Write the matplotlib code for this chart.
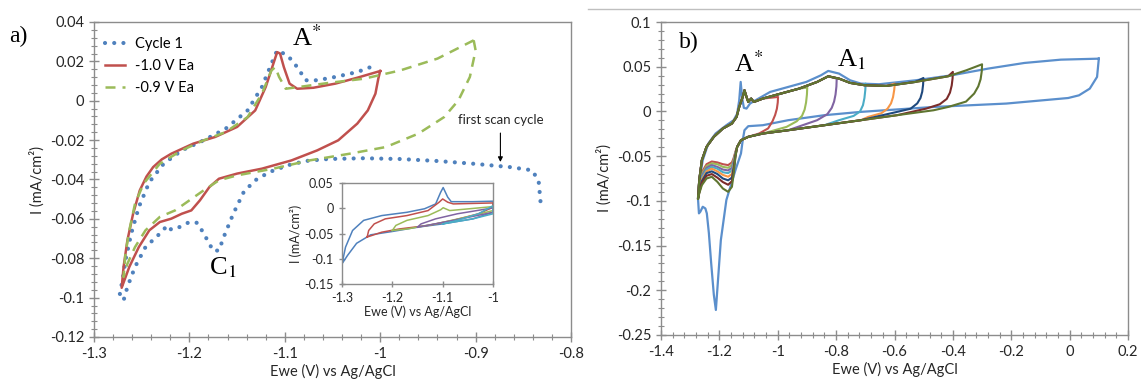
import matplotlib
matplotlib.use("Agg")
import matplotlib.pyplot as plt
import numpy as np
from matplotlib.lines import Line2D
from matplotlib.ticker import MultipleLocator

plt.rcParams["font.family"] = ["Lato", "DejaVu Sans"]
plt.rcParams["mathtext.fontset"] = "stix"

# ---------------- panel a: main curves ----------------
cycle1_x = [-0.832, -0.834, -0.841, -0.864, -0.902, -0.940, -0.979, -1.017, -1.055, -1.078,
            -1.097, -1.116, -1.131, -1.143, -1.154, -1.164, -1.169, -1.175, -1.181, -1.187,
            -1.192, -1.200, -1.210, -1.219, -1.223, -1.231, -1.246, -1.257, -1.265, -1.269,
            -1.273, -1.270, -1.267, -1.261, -1.253, -1.242, -1.227, -1.208, -1.185, -1.162,
            -1.139, -1.124, -1.114, -1.108, -1.097, -1.087, -1.078, -1.066, -1.047, -1.024, -1.005]
cycle1_y = [-0.051, -0.0404, -0.0353, -0.0337, -0.032, -0.0306, -0.0296, -0.0292, -0.0296, -0.0306,
            -0.0328, -0.0362, -0.0404, -0.0463, -0.0574, -0.0692, -0.076, -0.0763, -0.0709, -0.0658,
            -0.062, -0.0616, -0.0641, -0.0655, -0.0633, -0.0675, -0.0743, -0.0844, -0.0946, -0.1014,
            -0.098, -0.091, -0.081, -0.0675, -0.054, -0.0413, -0.032, -0.0252, -0.0201, -0.0142,
            -0.0049, 0.007, 0.0188, 0.0256, 0.023, 0.0171, 0.0104, 0.0104, 0.0121, 0.0146, 0.018]

ea10_x = [-1.000, -1.002, -1.005, -1.013, -1.024, -1.044, -1.066, -1.093, -1.124, -1.150, -1.169,
          -1.179, -1.189, -1.198, -1.208, -1.219, -1.231, -1.242, -1.253, -1.263, -1.271,
          -1.269, -1.265, -1.259, -1.252, -1.245, -1.238, -1.229, -1.219, -1.196, -1.173, -1.150,
          -1.131, -1.120, -1.112, -1.108, -1.105, -1.101, -1.095, -1.087, -1.070, -1.047, -1.024, -1.000]
ea10_y = [0.0151, 0.0112, 0.0036, -0.0049, -0.0116, -0.0201, -0.0252, -0.0303, -0.0345, -0.037, -0.0396,
          -0.0438, -0.0506, -0.0557, -0.0574, -0.0599, -0.0616, -0.0658, -0.0743, -0.0844, -0.095,
          -0.0844, -0.0709, -0.0574, -0.0455, -0.0385, -0.0337, -0.0298, -0.0269, -0.0218, -0.0184, -0.0133,
          -0.0049, 0.007, 0.0188, 0.0247, 0.024, 0.0171, 0.0087, 0.0061, 0.0066, 0.0087, 0.0117, 0.0151]

ea09_x = [-0.902, -0.900, -0.906, -0.918, -0.933, -0.960, -0.994, -1.032, -1.074, -1.112, -1.150,
          -1.169, -1.185, -1.200, -1.215, -1.231, -1.246, -1.257, -1.265, -1.269,
          -1.267, -1.263, -1.257, -1.248, -1.231, -1.208, -1.185, -1.162, -1.139, -1.124, -1.114,
          -1.110, -1.106, -1.099, -1.085, -1.055, -1.017, -0.979, -0.940, -0.902]
ea09_y = [0.0307, 0.0256, 0.0121, 0.0002, -0.0083, -0.0167, -0.0235, -0.0269, -0.0303, -0.0345, -0.0379,
          -0.0404, -0.0455, -0.0506, -0.0557, -0.059, -0.0658, -0.0743, -0.0828, -0.0895,
          -0.0777, -0.0658, -0.0523, -0.0421, -0.032, -0.0252, -0.0201, -0.0159, -0.0083, 0.0036, 0.0154,
          0.0171, 0.0121, 0.0061, 0.007, 0.009, 0.0112, 0.0154, 0.0214, 0.0307]

# ---------------- panel a: inset ----------------
inset_blue_x = [-1.300, -1.293, -1.279, -1.257, -1.221, -1.171, -1.136, -1.114, -1.104, -1.099, -1.090,
                -1.083, -1.040, -1.000, -1.000, -1.040, -1.100, -1.150, -1.200, -1.243, -1.271, -1.289, -1.300]
inset_blue_y = [-0.110, -0.077, -0.044, -0.024, -0.0145, -0.008, -0.001, 0.0085, 0.0316, 0.041, 0.022,
                0.013, 0.013, 0.014, -0.008, -0.021, -0.031, -0.0375, -0.046, -0.0526, -0.0694, -0.0934, -0.110]
inset_red_x = [-1.250, -1.247, -1.236, -1.214, -1.171, -1.129, -1.107, -1.100, -1.090, -1.079, -1.000,
               -1.000, -1.029, -1.079, -1.129, -1.186, -1.221, -1.250]
inset_red_y = [-0.057, -0.044, -0.031, -0.021, -0.0145, -0.0046, 0.012, 0.0184, 0.012, 0.0086, 0.0105,
               0.002, -0.011, -0.024, -0.034, -0.041, -0.0474, -0.057]
inset_green_x = [-1.200, -1.193, -1.171, -1.129, -1.104, -1.099, -1.086, -1.000, -1.000, -1.040, -1.114, -1.171, -1.200]
inset_green_y = [-0.044, -0.034, -0.024, -0.0145, -0.003, 0.001, -0.0046, 0.0033, -0.0046, -0.0145, -0.031, -0.041, -0.044]
inset_purple_x = [-1.150, -1.143, -1.114, -1.071, -1.000, -1.000, -1.079, -1.150]
inset_purple_y = [-0.0375, -0.031, -0.021, -0.011, 0.0007, -0.008, -0.024, -0.0375]
inset_cyan_x = [-1.100, -1.071, -1.029, -1.000, -1.000, -1.040, -1.100]
inset_cyan_y = [-0.031, -0.024, -0.011, 0.005, -0.011, -0.021, -0.031]

# ---------------- panel b: first (wide) cycle ----------------
wide_x = [0.100, 0.094, 0.069, 0.032, -0.005, -0.217, -0.466, -0.715, -0.840, -0.964, -1.051, -1.101,
          -1.114, -1.120, -1.126, -1.145, -1.176, -1.195, -1.205, -1.212, -1.219, -1.228, -1.236,
          -1.243, -1.248, -1.257, -1.265, -1.270, -1.273, -1.268, -1.257, -1.238, -1.213, -1.176,
          -1.151, -1.139, -1.132, -1.127, -1.122, -1.116, -1.107, -1.095, -1.076, -1.026, -0.964,
          -0.902, -0.852, -0.827, -0.790, -0.752, -0.715, -0.653, -0.528, -0.404, -0.279, -0.155,
          -0.030, 0.100]
wide_y = [0.059, 0.0386, 0.0255, 0.018, 0.015, 0.0088, 0.005, -0.0005, -0.0042, -0.0098, -0.0154, -0.0165,
          -0.021, -0.0322, -0.047, -0.0657, -0.099, -0.144, -0.190, -0.222, -0.205, -0.170, -0.136,
          -0.114, -0.1085, -0.1066, -0.112, -0.114, -0.099, -0.0768, -0.0545, -0.0359, -0.0247, -0.0154,
          -0.0098, -0.0024, 0.0125, 0.033, 0.015, 0.004, 0.0032, 0.0088, 0.0125, 0.0218, 0.0274,
          0.033, 0.0404, 0.0453, 0.0423, 0.0348, 0.0311, 0.0304, 0.0348, 0.0404, 0.0479, 0.0542,
          0.0579, 0.059]

# ---------------- panel b: shared branches of the switching-potential cycles ----------------
upper_x = [-1.269, -1.260, -1.244, -1.219, -1.188, -1.157, -1.141, -1.132, -1.120, -1.114, -1.107,
           -1.101, -1.091, -1.082, -1.051, -0.989, -0.927, -0.865, -0.827, -0.790, -0.752, -0.703,
           -0.628, -0.528, -0.416, -0.354]
upper_y = [-0.0768, -0.0545, -0.0396, -0.0284, -0.0191, -0.0135, -0.0061, 0.0051, 0.0162, 0.0237, 0.0162,
           0.0106, 0.0144, 0.0106, 0.0144, 0.020, 0.0255, 0.033, 0.0393, 0.0367, 0.0319, 0.0293,
           0.0285, 0.033, 0.0393, 0.046]
lower_x = [-0.466, -0.591, -0.715, -0.840, -0.964, -1.051, -1.101, -1.126, -1.139]
lower_y = [0.0013, -0.0042, -0.0098, -0.0154, -0.021, -0.0247, -0.0284, -0.0322, -0.0396]
cpeak_x = [-1.145, -1.151, -1.157, -1.170, -1.188, -1.207, -1.226, -1.244, -1.260, -1.269, -1.273]

ea_labels = ["-1.0", "-0.9", "-0.8", "-0.7", "-0.6", "-0.5", "-0.4", "-0.3"]
ea_top_x = [-0.999, -0.899, -0.798, -0.699, -0.599, -0.501, -0.400, -0.300]
ea_top_y = [0.0162, 0.0267, 0.0367, 0.0311, 0.0311, 0.0374, 0.0442, 0.0527]
rev_x = [[-1.000, -1.003, -1.009, -1.018, -1.033, -1.064],
         [-0.900, -0.903, -0.908, -0.917, -0.935, -0.970],
         [-0.799, -0.802, -0.807, -0.815, -0.830, -0.865],
         [-0.700, -0.703, -0.708, -0.718, -0.740, -0.790],
         [-0.601, -0.605, -0.612, -0.624, -0.645, -0.690],
         [-0.502, -0.505, -0.511, -0.522, -0.545, -0.591],
         [-0.401, -0.404, -0.410, -0.421, -0.445, -0.491],
         [-0.301, -0.305, -0.313, -0.327, -0.355, -0.416]]
rev_y = [[0.010, 0.003, -0.004, -0.011, -0.019, -0.0247],
         [0.019, 0.010, 0.002, -0.005, -0.011, -0.0173],
         [0.028, 0.019, 0.011, 0.004, -0.003, -0.0098],
         [0.024, 0.015, 0.007, 0.000, -0.005, -0.0098],
         [0.024, 0.016, 0.009, 0.003, -0.002, -0.0061],
         [0.030, 0.022, 0.015, 0.009, 0.003, -0.0005],
         [0.037, 0.029, 0.021, 0.014, 0.008, 0.0032],
         [0.045, 0.036, 0.028, 0.020, 0.011, 0.005]]
cpeak_y = [[-0.045, -0.052, -0.057, -0.060, -0.059, -0.057, -0.056, -0.059, -0.068, -0.084, -0.095],
           [-0.046, -0.054, -0.060, -0.063, -0.062, -0.059, -0.058, -0.061, -0.070, -0.086, -0.096],
           [-0.047, -0.056, -0.063, -0.066, -0.065, -0.062, -0.060, -0.063, -0.072, -0.087, -0.096],
           [-0.047, -0.058, -0.066, -0.069, -0.068, -0.064, -0.062, -0.065, -0.074, -0.088, -0.096],
           [-0.048, -0.061, -0.070, -0.073, -0.071, -0.067, -0.064, -0.067, -0.076, -0.089, -0.097],
           [-0.049, -0.063, -0.074, -0.077, -0.075, -0.070, -0.067, -0.069, -0.078, -0.090, -0.097],
           [-0.050, -0.066, -0.078, -0.082, -0.079, -0.074, -0.070, -0.072, -0.080, -0.091, -0.097],
           [-0.0508, -0.0694, -0.0843, -0.0899, -0.0862, -0.0787, -0.0731, -0.075, -0.0824, -0.0917, -0.0973]]
ea_colors = ["#C0504D", "#9BBB59", "#8064A2", "#4BACC6", "#F79646", "#1F497D", "#7B2C2A", "#5F7530"]

BLUE, RED, GREEN = "#4F81BD", "#C0504D", "#9BBB59"
AXIS_GRAY = "#8C8C8C"
TEXT = "#262626"


def build_loop(i):
    ux, uy = np.array(upper_x), np.array(upper_y)
    lx, ly = np.array(lower_x), np.array(lower_y)
    ea_x = ea_top_x[i]
    keep_u = ux < ea_x
    keep_l = lx < rev_x[i][-1]
    xs = np.concatenate([[cpeak_x[-1]], ux[keep_u], [ea_x], rev_x[i], lx[keep_l], cpeak_x])
    ys = np.concatenate([[cpeak_y[i][-1]], uy[keep_u], [ea_top_y[i]], rev_y[i], ly[keep_l], cpeak_y[i]])
    return xs, ys


def style_axis(ax, major_len=7, minor_len=5):
    for side in ax.spines.values():
        side.set_color(AXIS_GRAY)
        side.set_linewidth(1.0)
    ax.tick_params(which="both", direction="inout", color=AXIS_GRAY, labelcolor=TEXT,
                   top=False, right=False)
    ax.tick_params(which="major", length=major_len, width=1.0, labelsize=10.5)
    ax.tick_params(which="minor", length=minor_len, width=0.8)


def fmt(v):
    s = f"{v:.2f}".rstrip("0").rstrip(".")
    if s in ("-0", "0"):
        return "0"
    return s


fig = plt.figure(figsize=(11.41, 3.83), dpi=100)

# ---------------- panel a ----------------
ax_a = fig.add_axes([94 / 1141, 1 - 337 / 383, (571 - 94) / 1141, 315 / 383])
ax_a.plot(cycle1_x, cycle1_y, color=BLUE, lw=3.0, linestyle=(0, (0.01, 2.2)),
          dash_capstyle="round", label="Cycle 1")
ax_a.plot(ea10_x, ea10_y, color=RED, lw=1.8, label="-1.0 V Ea")
ax_a.plot(ea09_x, ea09_y, color=GREEN, lw=1.8, linestyle=(0, (4, 2.8)), label="-0.9 V Ea")
ax_a.set_xlim(-1.3, -0.8)
ax_a.set_ylim(-0.12, 0.04)
ax_a.xaxis.set_minor_locator(MultipleLocator(0.02))
ax_a.yaxis.set_minor_locator(MultipleLocator(0.004))
style_axis(ax_a)
ax_ticks = np.arange(-1.3, -0.79, 0.1)
ax_a.set_xticks(ax_ticks)
ax_a.set_xticklabels([fmt(v) for v in ax_ticks])
ay_ticks = np.arange(-0.12, 0.041, 0.02)
ax_a.set_yticks(ay_ticks)
ax_a.set_yticklabels([fmt(v) for v in ay_ticks])
ax_a.set_xlabel("Ewe (V) vs Ag/AgCl", fontsize=10.5, color=TEXT, labelpad=2)
ax_a.set_ylabel("I (mA/cm²)", fontsize=10.5, color=TEXT, labelpad=4)
ax_a.legend(loc="upper left", bbox_to_anchor=(0.01, 0.97), frameon=False, fontsize=10.5,
            handlelength=1.4, handletextpad=0.7, labelspacing=0.55, borderaxespad=0)
ax_a.annotate("", xy=(-0.874, -0.0325), xytext=(-0.874, -0.0150),
              arrowprops=dict(arrowstyle="-|>", color="black", lw=0.8, mutation_scale=7))
ax_a.text(-0.874, -0.0098, "first scan cycle", fontsize=9.5, color=TEXT, ha="center", va="center")
fig.text(9 / 1141, 1 - 36 / 383, "a)", fontsize=17, family="Liberation Serif", va="center")
fig.text(292 / 1141, 1 - 38 / 383, "A$^{*}$", fontsize=19, family="Liberation Serif", va="center")
fig.text(209 / 1141, 1 - 268 / 383, "C$_{1}$", fontsize=19, family="Liberation Serif", va="center")

# inset
ax_i = fig.add_axes([342 / 1141, 1 - 284 / 383, 151 / 1141, 101 / 383])
for xs, ys, c in [(inset_blue_x, inset_blue_y, BLUE), (inset_red_x, inset_red_y, RED),
                  (inset_green_x, inset_green_y, GREEN), (inset_purple_x, inset_purple_y, "#8064A2"),
                  (inset_cyan_x, inset_cyan_y, "#4BACC6")]:
    ax_i.plot(xs, ys, color=c, lw=1.1)
ax_i.set_xlim(-1.3, -1.0)
ax_i.set_ylim(-0.15, 0.05)
style_axis(ax_i, major_len=5, minor_len=0)
ax_i.tick_params(labelsize=9)
ax_i.set_xticks([-1.3, -1.2, -1.1, -1.0])
ax_i.set_xticklabels(["-1.3", "-1.2", "-1.1", "-1"])
ax_i.set_yticks([-0.15, -0.1, -0.05, 0, 0.05])
ax_i.set_yticklabels(["-0.15", "-0.1", "-0.05", "0", "0.05"])
ax_i.set_xlabel("Ewe (V) vs Ag/AgCl", fontsize=9, color=TEXT, labelpad=1)
ax_i.set_ylabel("I (mA/cm²)", fontsize=9, color=TEXT, labelpad=2)

# ---------------- panel b ----------------
ax_b = fig.add_axes([661 / 1141, 1 - 335 / 383, (1128 - 661) / 1141, 313 / 383])
ax_b.plot(wide_x, wide_y, color="#5B8FCC", lw=1.6)
for i in range(len(ea_labels)):
    xs, ys = build_loop(i)
    ax_b.plot(xs, ys, color=ea_colors[i], lw=1.5)
ax_b.set_xlim(-1.4, 0.2)
ax_b.set_ylim(-0.25, 0.1)
ax_b.xaxis.set_minor_locator(MultipleLocator(0.04))
ax_b.yaxis.set_minor_locator(MultipleLocator(0.01))
style_axis(ax_b)
bx_ticks = np.arange(-1.4, 0.21, 0.2)
ax_b.set_xticks(bx_ticks)
ax_b.set_xticklabels([fmt(v) for v in bx_ticks])
by_ticks = np.arange(-0.25, 0.101, 0.05)
ax_b.set_yticks(by_ticks)
ax_b.set_yticklabels([fmt(v) for v in by_ticks])
ax_b.set_xlabel("Ewe (V) vs Ag/AgCl", fontsize=10.5, color=TEXT, labelpad=2)
ax_b.set_ylabel("I (mA/cm²)", fontsize=10.5, color=TEXT, labelpad=4)
fig.text(679 / 1141, 1 - 42 / 383, "b)", fontsize=17, family="Liberation Serif", va="center")
fig.text(734 / 1141, 1 - 64 / 383, "A$^{*}$", fontsize=19, family="Liberation Serif", va="center")
fig.text(837 / 1141, 1 - 60 / 383, "A$_{1}$", fontsize=19, family="Liberation Serif", va="center")

fig.add_artist(Line2D([588 / 1141, 1.0], [1 - 9 / 383, 1 - 9 / 383], color="#BFBFBF", lw=1.0))

fig.savefig("out.png", dpi=100)
